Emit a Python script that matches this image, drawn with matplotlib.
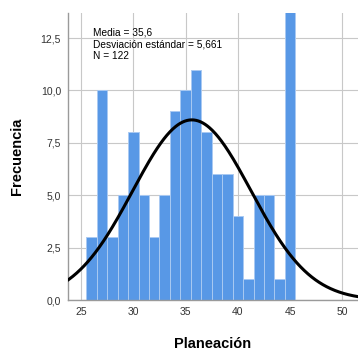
import matplotlib.pyplot as plt
import numpy as np
from matplotlib.ticker import FuncFormatter

plt.rcParams['font.family'] = ['Liberation Sans', 'DejaVu Sans']

# datos del histograma (Planeación)
valores = [26, 27, 28, 29, 30, 31, 32, 33, 34, 35, 36, 37, 38, 39, 40, 41, 42, 43, 44, 45]
frecuencias = [3, 10, 3, 5, 8, 5, 3, 5, 9, 10, 11, 8, 6, 6, 4, 1, 5, 5, 1, 14]
media = 35.6
desv = 5.661
n = 122

fig = plt.figure(figsize=(3.58, 3.49), dpi=100)
ax = fig.add_axes([0.19, 0.14, 0.81, 0.823])

ax.bar(valores, frecuencias, width=1.0, color='#5898e6', edgecolor='#a9c9f2',
       linewidth=0.7, zorder=2)

xs = np.linspace(23.5, 52, 400)
ys = n * 1.0 / (desv * np.sqrt(2 * np.pi)) * np.exp(-0.5 * ((xs - media) / desv) ** 2)
ax.plot(xs, ys, color='black', linewidth=2.2, zorder=3)

ax.set_xlim(23.75, 51.5)
ax.set_ylim(0, 13.7)
ax.set_xticks([25, 30, 35, 40, 45, 50])
ax.set_yticks([0, 2.5, 5, 7.5, 10, 12.5])
ax.yaxis.set_major_formatter(FuncFormatter(lambda v, p: ('%.1f' % v).replace('.', ',')))
ax.grid(True, color='#c8c8c8', linewidth=0.8, zorder=0)
ax.set_axisbelow(True)
ax.tick_params(length=0, labelsize=7.5, colors='#333333', pad=5)

for s in ['top', 'right']:
    ax.spines[s].set_visible(False)
for s in ['left', 'bottom']:
    ax.spines[s].set_color('#9a9a9a')
    ax.spines[s].set_linewidth(1.0)

ax.set_xlabel('Planeación', fontsize=10.5, fontweight='bold', labelpad=14)
ax.set_ylabel('Frecuencia', fontsize=10.5, fontweight='bold', labelpad=12)

ax.text(0.085, 0.948, 'Media = %s\nDesviación estándar = %s\nN = %d'
        % (str(media).replace('.', ','), str(desv).replace('.', ','), n),
        transform=ax.transAxes, fontsize=7.3, va='top', ha='left', linespacing=1.2)

plt.savefig('out.png', dpi=100)
